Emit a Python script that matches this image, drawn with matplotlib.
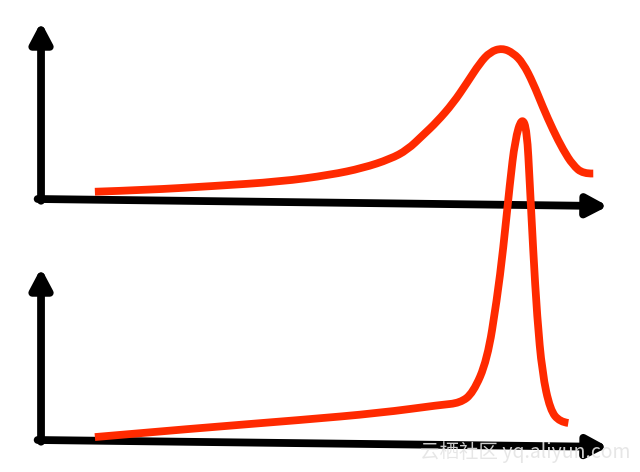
import matplotlib.pyplot as plt
from matplotlib.path import Path
from matplotlib.patches import PathPatch

# Upper sketch: broad bump (x in 0..100, y in 0..100 of the panel)
top_x = [9.5, 18.7, 30.3, 42.2, 51.0, 56.8, 61.6, 64.6, 67.4, 69.8, 72.7,
         75.1, 77.4, 79.2, 81.3, 83.3, 85.0, 86.8, 88.5, 90.3, 92.1, 93.8,
         95.6, 97.4]
top_y = [4.1, 5.1, 7.3, 9.8, 13.6, 17.5, 22.6, 27.7, 36.2, 43.5, 54.2,
         65.5, 76.8, 83.1, 85.3, 82.5, 76.8, 65.5, 52.0, 39.0, 27.7, 19.2,
         14.2, 14.4]

# Lower sketch: slow ramp then a narrow spike that overshoots the panel
bottom_x = [9.5, 28.0, 45.7, 59.8, 70.4, 73.9, 76.2, 78.7, 80.4, 81.5,
            82.7, 83.6, 84.8, 85.7, 86.2, 86.8, 87.5, 88.4, 89.8, 91.5, 93.0]
bottom_y = [1.7, 7.0, 11.6, 15.7, 20.4, 21.5, 27.3, 46.5, 81.4, 110.5,
            149.4, 174.4, 187.8, 180.2, 149.4, 110.5, 71.5, 39.0, 17.4,
            10.5, 9.9]

watermark = "云栖社区 yq.aliyun.com"

red = "#ff2a00"


def smooth_path(xs, ys):
    # quadratic bezier through the midpoints, the read points act as controls
    pts = list(zip(xs, ys))
    verts = [pts[0]]
    codes = [Path.MOVETO]
    for i in range(1, len(pts) - 1):
        mid = ((pts[i][0] + pts[i + 1][0]) / 2, (pts[i][1] + pts[i + 1][1]) / 2)
        if i == len(pts) - 2:
            mid = pts[-1]
        verts += [pts[i], mid]
        codes += [Path.CURVE3, Path.CURVE3]
    return Path(verts, codes)


def sketch_axes(ax):
    ax.set_xlim(0, 100)
    ax.set_ylim(0, 100)
    ax.axis("off")
    arrow = dict(arrowstyle="-|>,head_length=0.85,head_width=0.45",
                 color="black", lw=5.6, shrinkA=0, shrinkB=0,
                 mutation_scale=14)
    # y axis
    ax.annotate("", xy=(0, 1.0), xytext=(0, -0.01), xycoords="axes fraction",
                arrowprops=arrow, annotation_clip=False)
    # x axis, drawn slightly tilted like the hand sketch
    ax.annotate("", xy=(1.0, -0.04), xytext=(-0.006, 0.0),
                xycoords="axes fraction", arrowprops=arrow,
                annotation_clip=False)


fig = plt.figure(figsize=(6.4, 4.72), dpi=100)
ax_top = fig.add_axes([0.0641, 0.5784, 0.8859, 0.375])
ax_bot = fig.add_axes([0.0641, 0.0678, 0.8859, 0.3644])

sketch_axes(ax_top)
sketch_axes(ax_bot)

for ax, xs, ys in [(ax_top, top_x, top_y), (ax_bot, bottom_x, bottom_y)]:
    curve = PathPatch(smooth_path(xs, ys), facecolor="none", edgecolor=red,
                      lw=5.6, capstyle="butt", joinstyle="round",
                      clip_on=False, zorder=5)
    ax.add_patch(curve)

fig.text(0.985, 0.042, watermark, ha="right", va="center", fontsize=14,
         color="#e4e4e4", alpha=0.9, zorder=10,
         family=["Noto Sans CJK SC", "DejaVu Sans"])

fig.savefig("out.png", dpi=100)
